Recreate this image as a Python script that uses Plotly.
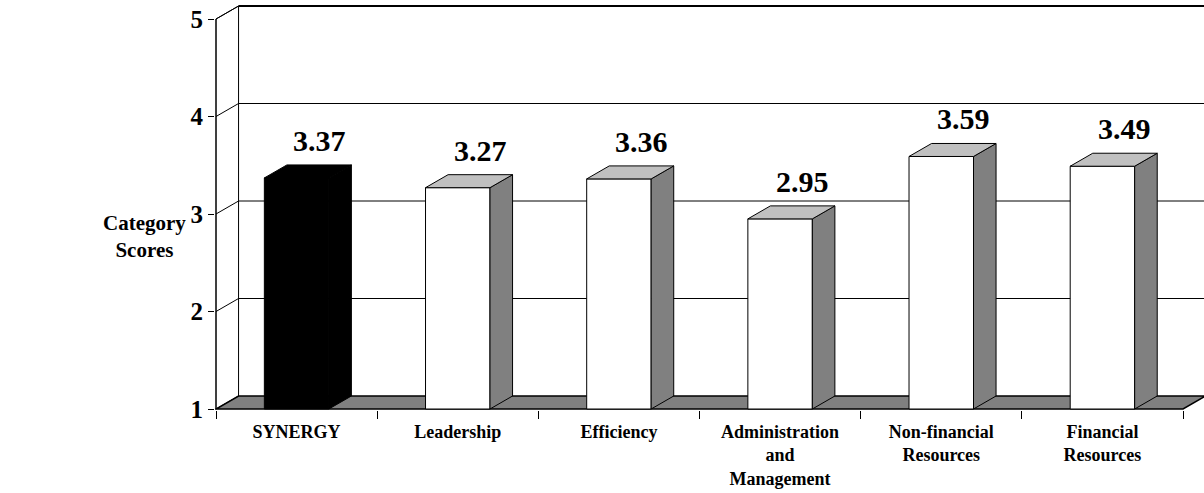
import plotly.graph_objects as go

categories = ["SYNERGY", "Leadership", "Efficiency", "Administration<br>and<br>Management",
              "Non-financial<br>Resources", "Financial<br>Resources"]
scores = [3.37, 3.27, 3.36, 2.95, 3.59, 3.49]
y_ticks = [1, 2, 3, 4, 5]

front_colors = ["#000000"] + ["#FFFFFF"] * 5
top_colors = ["#000000"] + ["#C0C0C0"] * 5
side_colors = ["#000000"] + ["#808080"] * 5

FONT = "Liberation Serif, Times New Roman, serif"
DX, DY = 0.14, 0.1333   # depth of the fake 3d, in axis units
HALF = 0.2              # half width of a bar's front face
X0, X1 = -0.5, len(categories) - 0.5
XR = [-0.5062, 5.6302]
YR = [0.9897, 5.195]

fig = go.Figure()

shapes = []
line_k = dict(color="#000000", width=1)

# back wall gridlines
for k in y_ticks[1:-1]:
    shapes.append(dict(type="line", layer="below", xref="x", yref="y",
                       x0=X0 + DX, x1=XR[1] + 0.2, y0=k + DY, y1=k + DY, line=line_k))
shapes.append(dict(type="line", layer="below", xref="x", yref="y",
                   x0=X0 + DX, x1=XR[1] + 0.2, y0=5 + DY, y1=5 + DY,
                   line=dict(color="#000000", width=2)))

# left wall
shapes.append(dict(type="path", layer="below", xref="x", yref="y",
                   path=f"M{X0},{1} L{X0},{5} L{X0 + DX},{5 + DY} L{X0 + DX},{1 + DY} Z",
                   fillcolor="#FFFFFF", line=line_k))
for k in y_ticks[1:]:
    shapes.append(dict(type="line", layer="below", xref="x", yref="y",
                       x0=X0, x1=X0 + DX, y0=k, y1=k + DY, line=line_k))

# floor
shapes.append(dict(type="path", layer="below", xref="x", yref="y",
                   path=f"M{X0},{1} L{X1},{1} L{X1 + DX},{1 + DY} L{X0 + DX},{1 + DY} Z",
                   fillcolor="#808080", line=dict(color="#000000", width=1.5)))

# front-left vertical edge
shapes.append(dict(type="line", xref="x", yref="y", x0=X0, x1=X0, y0=1, y1=5,
                   line=line_k, layer="below"))

# bar front faces
fig.add_trace(go.Bar(
    x=list(range(len(categories))),
    y=[v - 1 for v in scores],
    base=1,
    width=2 * HALF,
    marker=dict(color=front_colors, line=dict(color="#000000", width=1)),
    hoverinfo="skip",
    showlegend=False,
))

# bar side and top faces
for i, v in enumerate(scores):
    r = i + HALF
    l = i - HALF
    fig.add_trace(go.Scatter(
        x=[r, r + DX, r + DX, r, r], y=[1, 1 + DY, v + DY, v, 1],
        mode="lines", fill="toself", fillcolor=side_colors[i],
        line=dict(color="#000000", width=1), hoverinfo="skip", showlegend=False))
    fig.add_trace(go.Scatter(
        x=[l, r, r + DX, l + DX, l], y=[v, v, v + DY, v + DY, v],
        mode="lines", fill="toself", fillcolor=top_colors[i],
        line=dict(color="#000000", width=1), hoverinfo="skip", showlegend=False))

annotations = []
for i, v in enumerate(scores):
    annotations.append(dict(x=i + DX, y=v + DY, xref="x", yref="y", text=f"<b>{v:.2f}</b>",
                            showarrow=False, yanchor="bottom", yshift=6,
                            font=dict(family=FONT, size=30, color="#000000")))
annotations.append(dict(x=-0.0708, y=0.422, xref="paper", yref="paper",
                        text="<b>Category<br>Scores</b>", showarrow=False,
                        xanchor="center", yanchor="middle",
                        font=dict(family=FONT, size=21, color="#000000")))

fig.update_layout(
    width=1204, height=493,
    margin=dict(l=215, r=0, t=0, b=83),
    plot_bgcolor="#FFFFFF",
    paper_bgcolor="#FFFFFF",
    shapes=shapes,
    annotations=annotations,
    barmode="overlay",
    hovermode=False,
    xaxis=dict(
        range=XR, showgrid=False, zeroline=False, showline=False,
        tickmode="array", tickvals=list(range(len(categories))),
        ticktext=[f"<b>{c}</b>" for c in categories],
        ticks="", ticklabelstandoff=9,
        tickfont=dict(family=FONT, size=18, color="#000000"),
        minor=dict(tickmode="array", tickvals=[i - 0.5 for i in range(len(categories) + 1)],
                   ticks="outside", ticklen=8, tickcolor="#000000", tickwidth=1),
    ),
    yaxis=dict(
        range=YR, showgrid=False, zeroline=False, showline=False,
        tickmode="array", tickvals=y_ticks, ticktext=[f"<b>{t}</b>" for t in y_ticks],
        ticks="outside", ticklen=6, tickcolor="#000000", tickwidth=1,
        tickfont=dict(family=FONT, size=25, color="#000000"),
    ),
)

fig.write_html("out.html", config={"displayModeBar": False},
               post_script="document.body.style.margin='0';")
